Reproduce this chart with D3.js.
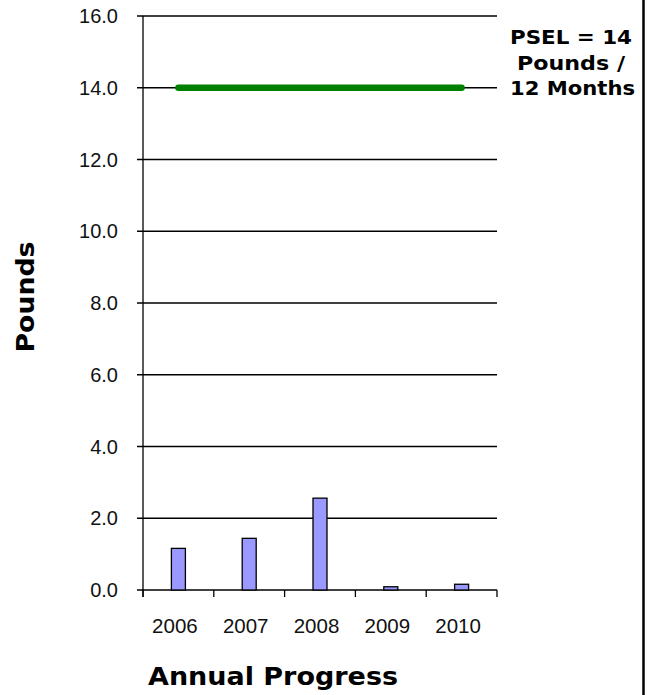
<!DOCTYPE html>
<html>
<head>
<meta charset="utf-8">
<script src="https://cdn.jsdelivr.net/npm/d3@7"></script>
<style>
  html, body { margin: 0; padding: 0; background: #fff; }
  svg { display: block; }
</style>
</head>
<body>
<svg id="chart" width="657" height="695"></svg>
<script>
const categories = ["2006", "2007", "2008", "2009", "2010"];
const pounds = [1.16, 1.44, 2.56, 0.09, 0.16];
const psel = [14, 14, 14, 14, 14];
const yTicks = [0, 2, 4, 6, 8, 10, 12, 14, 16];
const pselLabel = ["PSEL = 14", "Pounds /", "12 Months"];
const yTitle = "Pounds";
const xTitle = "Annual Progress";

(function () {
const svg = d3.select("#chart");
const plotLeft = 143, plotRight = 497, plotTop = 16, plotBottom = 590;

const x = d3.scaleBand().domain(categories).range([plotLeft, plotRight]).padding(0);
const y = d3.scaleLinear().domain([0, 16]).range([plotBottom, plotTop]);

// gridlines
svg.append("g").selectAll("line").data(yTicks).join("line")
  .attr("x1", plotLeft - 6).attr("x2", plotRight)
  .attr("y1", d => y(d)).attr("y2", d => y(d))
  .attr("stroke", "#000").attr("stroke-width", 1.3);

// y tick labels
svg.append("g").selectAll("text").data(yTicks).join("text")
  .attr("x", 118).attr("y", d => y(d))
  .attr("dy", "0.35em")
  .attr("text-anchor", "end")
  .attr("font-family", "Liberation Sans, Arial, sans-serif")
  .attr("font-size", 20)
  .attr("fill", "#111")
  .text(d => d.toFixed(1));

// y axis line
svg.append("line").attr("x1", plotLeft).attr("x2", plotLeft)
  .attr("y1", plotTop).attr("y2", plotBottom + 7)
  .attr("stroke", "#000").attr("stroke-width", 1.3);

// x axis ticks at band boundaries
const boundaries = categories.map(c => x(c)).concat([x(categories[categories.length - 1]) + x.bandwidth()]);
svg.append("g").selectAll("line").data(boundaries).join("line")
  .attr("x1", d => d).attr("x2", d => d)
  .attr("y1", plotBottom).attr("y2", plotBottom + 7)
  .attr("stroke", "#000").attr("stroke-width", 1.3);

// bars
const bw = 14;
svg.append("g").selectAll("rect").data(pounds).join("rect")
  .attr("x", (d, i) => x(categories[i]) + x.bandwidth() / 2 - bw / 2)
  .attr("width", bw)
  .attr("y", d => y(d))
  .attr("height", d => plotBottom - y(d))
  .attr("fill", "#9999ff")
  .attr("stroke", "#000")
  .attr("stroke-width", 1.3);

// PSEL line
svg.append("path").datum(psel)
  .attr("d", d3.line()
      .x((v, i) => x(categories[i]) + x.bandwidth() / 2)
      .y(v => y(v)))
  .attr("fill", "none")
  .attr("stroke", "#008000")
  .attr("stroke-width", 6.5)
  .attr("stroke-linecap", "round");

// x tick labels
svg.append("g").selectAll("text").data(categories).join("text")
  .attr("x", d => x(d) + x.bandwidth() / 2 - 3.5)
  .attr("y", 633)
  .attr("text-anchor", "middle")
  .attr("font-family", "Liberation Sans, Arial, sans-serif")
  .attr("font-size", 20.5)
  .attr("fill", "#111")
  .text(d => d);

// x title
svg.append("text")
  .attr("x", 273).attr("y", 685)
  .attr("text-anchor", "middle")
  .attr("font-family", "DejaVu Sans, Verdana, sans-serif")
  .attr("font-weight", "bold")
  .attr("font-size", 24)
  .attr("textLength", 250)
  .attr("lengthAdjust", "spacingAndGlyphs")
  .attr("fill", "#000")
  .text(xTitle);

// y title
svg.append("text")
  .attr("transform", "translate(34,297) rotate(-90)")
  .attr("text-anchor", "middle")
  .attr("font-family", "DejaVu Sans, Verdana, sans-serif")
  .attr("font-weight", "bold")
  .attr("font-size", 24)
  .attr("textLength", 111)
  .attr("lengthAdjust", "spacingAndGlyphs")
  .attr("fill", "#000")
  .text(yTitle);

// PSEL annotation
const annWidths = [122, 108, 125];
const annCenters = [571, 571, 572.5];
const annBaselines = [44, 69.5, 95];
svg.append("g").selectAll("text").data(pselLabel).join("text")
  .attr("x", (d, i) => annCenters[i])
  .attr("y", (d, i) => annBaselines[i])
  .attr("text-anchor", "middle")
  .attr("font-family", "DejaVu Sans, Verdana, sans-serif")
  .attr("font-weight", "bold")
  .attr("font-size", 19)
  .attr("textLength", (d, i) => annWidths[i])
  .attr("lengthAdjust", "spacingAndGlyphs")
  .attr("fill", "#000")
  .text(d => d);

// right border line
svg.append("line").attr("x1", 643.5).attr("x2", 643.5)
  .attr("y1", 0).attr("y2", 695)
  .attr("stroke", "#000").attr("stroke-width", 2.5);
})();
</script>
</body>
</html>
